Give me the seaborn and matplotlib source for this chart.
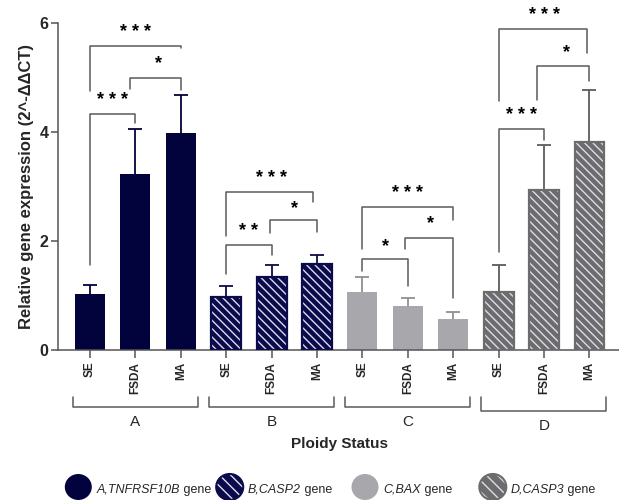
import pandas as pd
import matplotlib.pyplot as plt
import seaborn as sns
from matplotlib.patches import Ellipse
from matplotlib.transforms import blended_transform_factory

# Data
groups = ['A', 'B', 'C', 'D']
ploidy = ['SE', 'FSDA', 'MA']
genes = ['A,TNFRSF10B', 'B,CASP2', 'C,BAX', 'D,CASP3']
means = [1.03, 3.22, 3.97, 0.97, 1.33, 1.57, 1.06, 0.81, 0.57, 1.07, 2.93, 3.82]
upper = [1.19, 4.05, 4.68, 1.18, 1.56, 1.75, 1.33, 0.95, 0.70, 1.56, 3.75, 4.76]

fill_colors = ['#02023c', '#0b0b4b', '#a8a8ac', '#6c6c6c']
hatches = ['', '\\\\\\\\', '', '\\\\\\\\']
err_colors = ['#02023c', '#0b0b4b', '#909094', '#5c5c5c']

# significance brackets: (bar1, bar2, top, left leg end, right leg end, stars, star y, dx1, dx2)
brackets = [
    (0, 1, 4.32, 1.56, 4.16, '***', 4.58, 0, 0),
    (1, 2, 4.99, 4.79, 4.77, '*', 5.25, -0.12, 0),
    (0, 2, 5.57, 4.75, 5.54, '***', 5.82, 0, 0),
    (3, 4, 1.93, 1.40, 1.74, '**', 2.18, 0, 0),
    (4, 5, 2.38, 2.14, 2.16, '*', 2.60, -0.03, 0),
    (3, 5, 2.90, 2.09, 2.71, '***', 3.15, 0, -0.1),
    (6, 7, 1.67, 1.45, 1.18, '*', 1.90, 0, 0),
    (7, 8, 2.06, 1.86, 0.96, '*', 2.31, -0.07, 0),
    (6, 8, 2.62, 1.86, 2.39, '***', 2.87, 0, 0),
    (9, 10, 4.05, 1.80, 3.85, '***', 4.30, 0, 0),
    (10, 11, 5.20, 4.59, 4.93, '*', 5.45, -0.16, 0),
    (9, 11, 5.89, 4.56, 5.45, '***', 6.14, 0, -0.05),
]

df = pd.DataFrame({
    'bar': [f'{g}-{p}' for g in groups for p in ploidy],
    'group': [g for g in groups for p in ploidy],
    'value': means,
})

sns.set_style('ticks')
plt.rcParams['font.family'] = ['Liberation Sans', 'DejaVu Sans']
plt.rcParams['hatch.linewidth'] = 1.0

fig = plt.figure(figsize=(6.19, 5.0), dpi=100)
ax = fig.add_axes([58 / 619, 0.3, 1 - 58 / 619, (350 - 22.7) / 500])

bw = 0.66
sns.barplot(data=df, x='bar', y='value', hue='group', palette=fill_colors,
            width=bw, dodge=False, legend=False, errorbar=None, ax=ax,
            saturation=1, zorder=2)

for p in list(ax.patches):
    i = int(round(p.get_x() + p.get_width() / 2))
    g = i // 3
    p.set_linewidth(0)
    if hatches[g]:
        p.set_hatch(hatches[g])
        p.set_edgecolor('#dcdcef')
        ax.bar(i, means[i], width=bw, fill=False, edgecolor=fill_colors[g],
               linewidth=1.6, zorder=3)

# upper-only error bars
for i, (m, u) in enumerate(zip(means, upper)):
    g = i // 3
    eb = ax.errorbar(i, m, yerr=[[0], [u - m]], fmt='none', ecolor=err_colors[g],
                     elinewidth=1.3, capsize=5, capthick=1.3, zorder=1)
    eb[1][0].set_visible(False)

# brackets
bc = '#5a5a5a'
for b1, b2, top, yl, yr, stars, ty, dx1, dx2 in brackets:
    x1, x2 = b1 + dx1, b2 + dx2
    ax.plot([x1, x1, x2, x2], [yl, top, top, yr], color=bc, lw=1.1,
            clip_on=False, zorder=4)
    ax.text((b1 + b2) / 2, ty, ' '.join(stars), ha='center', va='center',
            fontsize=13, fontweight='bold', color='black', clip_on=False)

ax.set_xlim(-0.705, 11.65)
ax.set_ylim(0, 6)
ax.set_yticks([0, 2, 4, 6])
ax.set_yticklabels(['0', '2', '4', '6'], fontsize=11.5, fontweight='bold')
ax.set_xticks(range(12))
ax.set_xticklabels(ploidy * 4, rotation=90, fontsize=8.5, fontweight='bold',
                   va='top')
ax.set_xlabel('')
ax.set_ylabel('Relative gene expression (2^-ΔΔCT)', fontsize=12,
              fontweight='bold', labelpad=4)
ax.tick_params(axis='x', length=6, width=1.1, pad=2.5, color='#555555')
ax.tick_params(axis='y', length=5, width=1.1, pad=2, color='#555555')
for s in ['top', 'right']:
    ax.spines[s].set_visible(False)
for s in ['left', 'bottom']:
    ax.spines[s].set_color('#555555')
    ax.spines[s].set_linewidth(1.1)

# group brackets under the tick labels
trans = blended_transform_factory(ax.transData, fig.transFigure)
for k, g in enumerate(groups):
    x0, x1 = 3 * k - 0.38, 3 * k + 2 + 0.37
    yh = 1 - (406.7 if g != 'D' else 410.7) / 500
    yt = 1 - 396.7 / 500
    ax.plot([x0, x0, x1, x1], [yt, yh, yh, yt], color=bc, lw=1.1,
            transform=trans, clip_on=False)
    ax.text((x0 + x1) / 2, yh - 0.03, g, transform=trans, ha='center',
            va='center', fontsize=11)

fig.text(340 / 619, 1 - 444 / 500, 'Ploidy Status', ha='center', va='center',
         fontsize=11, fontweight='bold')

# legend drawn by hand
circle_x = [78.3, 229.7, 365, 492.8]
for k, gene in enumerate(genes):
    cx = circle_x[k] / 619
    cy = 1 - 487 / 500
    e = Ellipse((cx, cy), 27 / 619, 26 / 500, transform=fig.transFigure,
                facecolor=fill_colors[k], edgecolor='none')
    fig.add_artist(e)
    if hatches[k]:
        e.set_hatch('\\\\\\')
        e.set_edgecolor('#dcdcef')
        e.set_linewidth(0)
        fig.add_artist(Ellipse((cx, cy), 27 / 619, 26 / 500,
                               transform=fig.transFigure, fill=False,
                               edgecolor=fill_colors[k], linewidth=1.5))
    t = fig.text(cx + 18 / 619, 1 - 490 / 500, gene, ha='left', va='center',
                 fontsize=9, style='italic')
    fig.add_artist(plt.Annotation(' gene', xy=(1, 0), xycoords=t, ha='left',
                                  va='bottom', fontsize=9,
                                  annotation_clip=False))

fig.savefig('out.png', dpi=100)
